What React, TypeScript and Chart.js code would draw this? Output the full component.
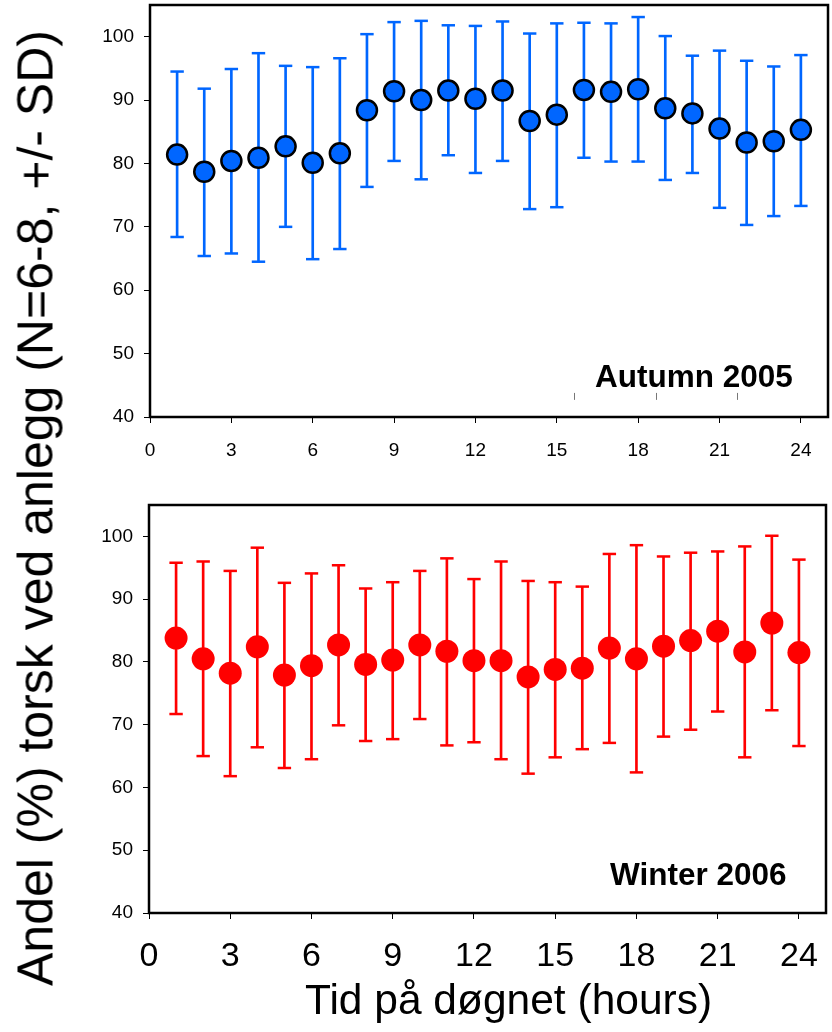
import { useEffect, useRef } from 'react';
import { Chart, registerables } from 'chart.js';

Chart.register(...registerables);

const FONT = '"Liberation Sans", Arial, Helvetica, sans-serif';

// Hours of the day (x values)
const hours = [1, 2, 3, 4, 5, 6, 7, 8, 9, 10, 11, 12, 13, 14, 15, 16, 17, 18, 19, 20, 21, 22, 23, 24];
const xTickStep = 3;
const yTickStep = 10;

// Autumn 2005 (mean, mean+SD, mean-SD)
const autumnMean = [81.4, 78.7, 80.4, 80.9, 82.7, 80.1, 81.6, 88.4, 91.4, 90.0, 91.5, 90.2, 91.5, 86.7, 87.7, 91.6, 91.3, 91.7, 88.7, 87.9, 85.5, 83.3, 83.5, 85.3];
const autumnHigh = [94.5, 91.8, 94.9, 97.4, 95.4, 95.2, 96.6, 100.4, 102.3, 102.5, 101.8, 101.7, 102.4, 100.5, 102.1, 102.2, 102.1, 103.1, 100.1, 97.0, 97.8, 96.2, 95.3, 97.1];
const autumnLow = [68.4, 65.4, 65.8, 64.5, 70.0, 64.9, 66.5, 76.3, 80.4, 77.5, 81.3, 78.5, 80.4, 72.8, 73.1, 80.9, 80.3, 80.3, 77.4, 78.5, 73.0, 70.3, 71.7, 73.3];

// Winter 2006 (mean, mean+SD, mean-SD)
const winterMean = [83.8, 80.5, 78.2, 82.4, 77.9, 79.4, 82.7, 79.6, 80.3, 82.7, 81.7, 80.2, 80.2, 77.6, 78.8, 79.0, 82.2, 80.5, 82.5, 83.4, 84.9, 81.6, 86.2, 81.5];
const winterHigh = [95.8, 96.0, 94.5, 98.2, 92.6, 94.1, 95.4, 91.7, 92.7, 94.5, 96.5, 93.2, 96.0, 92.9, 92.7, 92.0, 97.2, 98.6, 96.8, 97.4, 97.6, 98.4, 100.1, 96.3];
const winterLow = [71.7, 65.0, 61.8, 66.4, 63.1, 64.5, 69.9, 67.4, 67.7, 70.9, 66.7, 67.2, 64.5, 62.2, 64.8, 66.1, 67.1, 62.4, 68.1, 69.2, 72.1, 64.8, 72.3, 66.6];

// Small stray tick marks inside the top panel (hour positions)
const strayTicks = [15.65, 18.65, 21.63];
const strayTickRange = [42.7, 43.8];

const framePlugin = {
  id: 'frame',
  afterDraw(chart: any, _args: any, opts: any) {
    const { ctx, chartArea, scales } = chart;
    const { left, top, right, bottom } = chartArea;
    ctx.save();
    ctx.strokeStyle = '#000';
    ctx.lineWidth = 2.5;
    ctx.strokeRect(left, top, right - left, bottom - top);
    if (opts && opts.stray) {
      ctx.strokeStyle = '#777';
      ctx.lineWidth = 1;
      for (const h of opts.stray) {
        const x = Math.round(scales.x.getPixelForValue(h)) + 0.5;
        ctx.beginPath();
        ctx.moveTo(x, scales.y.getPixelForValue(strayTickRange[0]));
        ctx.lineTo(x, scales.y.getPixelForValue(strayTickRange[1]));
        ctx.stroke();
      }
    }
    ctx.restore();
  },
};

type PanelOpts = {
  mean: number[];
  low: number[];
  high: number[];
  color: string;
  pointBorder: string;
  pointBorderWidth: number;
  pointRadius: number;
  capRadius: number;
  padding: { top: number; right: number; left: number; bottom: number };
  yWidth: number;
  xHeight: number;
  xTickSize: number;
  xTickPad: number;
  stray: number[] | null;
};

function buildConfig(o: PanelOpts): any {
  const zeroPad = (s: any) => {
    s.paddingTop = 0;
    s.paddingBottom = 0;
    s.paddingLeft = 0;
    s.paddingRight = 0;
  };
  return {
    type: 'scatter',
    data: {
      datasets: [
        {
          type: 'scatter',
          data: hours.map((h, i) => ({ x: h, y: o.mean[i] })),
          pointStyle: 'circle',
          pointRadius: o.pointRadius,
          pointHoverRadius: o.pointRadius,
          backgroundColor: o.color,
          borderColor: o.pointBorder,
          borderWidth: o.pointBorderWidth,
          order: 1,
        },
        {
          type: 'scatter',
          data: [
            ...hours.map((h, i) => ({ x: h, y: o.high[i] })),
            ...hours.map((h, i) => ({ x: h, y: o.low[i] })),
          ],
          pointStyle: 'line',
          pointRadius: o.capRadius,
          pointHoverRadius: o.capRadius,
          borderColor: o.color,
          backgroundColor: o.color,
          borderWidth: 2.5,
          order: 2,
        },
        {
          type: 'bar',
          data: hours.map((h, i) => ({ x: h, y: [o.low[i], o.high[i]] })),
          backgroundColor: o.color,
          borderWidth: 0,
          barThickness: 2,
          grouped: false,
          order: 3,
        },
      ],
    },
    options: {
      responsive: false,
      maintainAspectRatio: false,
      animation: false,
      devicePixelRatio: 1,
      events: [],
      layout: { padding: o.padding, autoPadding: false },
      plugins: {
        legend: { display: false },
        tooltip: { enabled: false },
        title: { display: false },
        frame: { stray: o.stray },
      },
      scales: {
        x: {
          type: 'linear',
          position: 'bottom',
          min: 0,
          max: 25,
          offset: false,
          border: { display: false },
          grid: {
            display: true,
            offset: false,
            drawOnChartArea: false,
            drawTicks: true,
            tickLength: 6,
            color: '#000',
            lineWidth: 1,
          },
          ticks: {
            stepSize: xTickStep,
            includeBounds: false,
            autoSkip: false,
            maxRotation: 0,
            minRotation: 0,
            padding: o.xTickPad,
            color: '#000',
            font: { family: FONT, size: o.xTickSize },
          },
          afterFit: (s: any) => {
            s.height = o.xHeight;
            zeroPad(s);
          },
        },
        y: {
          type: 'linear',
          position: 'left',
          min: 40,
          max: 105,
          border: { display: false },
          grid: {
            display: true,
            drawOnChartArea: false,
            drawTicks: true,
            tickLength: 6,
            color: '#000',
            lineWidth: 1,
          },
          ticks: {
            stepSize: yTickStep,
            includeBounds: false,
            padding: 10,
            color: '#000',
            font: { family: FONT, size: 19 },
          },
          afterFit: (s: any) => {
            s.width = o.yWidth;
            zeroPad(s);
          },
        },
      },
    },
    plugins: [framePlugin],
  };
}

function Panel(props: { opts: PanelOpts; top: number; height: number }) {
  const ref = useRef<HTMLCanvasElement | null>(null);
  useEffect(() => {
    if (!ref.current) return;
    const chart = new Chart(ref.current, buildConfig(props.opts));
    return () => chart.destroy();
  }, []);
  return (
    <canvas
      ref={ref}
      width={832}
      height={props.height}
      style={{ position: 'absolute', left: 0, top: props.top, width: 832, height: props.height, display: 'block' }}
    />
  );
}

const autumnOpts: PanelOpts = {
  mean: autumnMean,
  low: autumnLow,
  high: autumnHigh,
  color: '#0066FF',
  pointBorder: '#000',
  pointBorderWidth: 2.5,
  pointRadius: 10,
  capRadius: 6.7,
  padding: { top: 5, right: 4, left: 0, bottom: 0 },
  yWidth: 150,
  xHeight: 53,
  xTickSize: 19,
  xTickPad: 16.5,
  stray: strayTicks,
};

const winterOpts: PanelOpts = {
  mean: winterMean,
  low: winterLow,
  high: winterHigh,
  color: '#FF0000',
  pointBorder: '#FF0000',
  pointBorderWidth: 0,
  pointRadius: 11.5,
  capRadius: 6.7,
  padding: { top: 25, right: 6, left: 0, bottom: 0 },
  yWidth: 149,
  xHeight: 67,
  xTickSize: 34,
  xTickPad: 17,
  stray: null,
};

export default function App() {
  return (
    <div
      style={{
        position: 'absolute',
        left: 0,
        top: 0,
        width: 832,
        height: 1032,
        background: '#fff',
        overflow: 'hidden',
        fontFamily: FONT,
        color: '#000',
      }}
    >
      <Panel opts={autumnOpts} top={0} height={470} />
      <Panel opts={winterOpts} top={480} height={500} />
      <div style={{ position: 'absolute', left: 595, top: 360.5, fontSize: 31.5, lineHeight: '31.5px', fontWeight: 'bold', whiteSpace: 'nowrap' }}>
        Autumn 2005
      </div>
      <div style={{ position: 'absolute', left: 610, top: 859, fontSize: 31.5, lineHeight: '31.5px', fontWeight: 'bold', whiteSpace: 'nowrap' }}>
        Winter 2006
      </div>
      <div style={{ position: 'absolute', left: 305, top: 979, fontSize: 42.5, lineHeight: '42.5px', whiteSpace: 'nowrap' }}>
        Tid på døgnet (hours)
      </div>
      <div
        style={{
          position: 'absolute',
          left: 36,
          top: 507.5,
          fontSize: 50,
          lineHeight: '57px',
          whiteSpace: 'nowrap',
          transform: 'translate(-50%, -50%) rotate(-90deg)',
        }}
      >
        Andel (%) torsk ved anlegg (N=6-8, +/- SD)
      </div>
    </div>
  );
}
